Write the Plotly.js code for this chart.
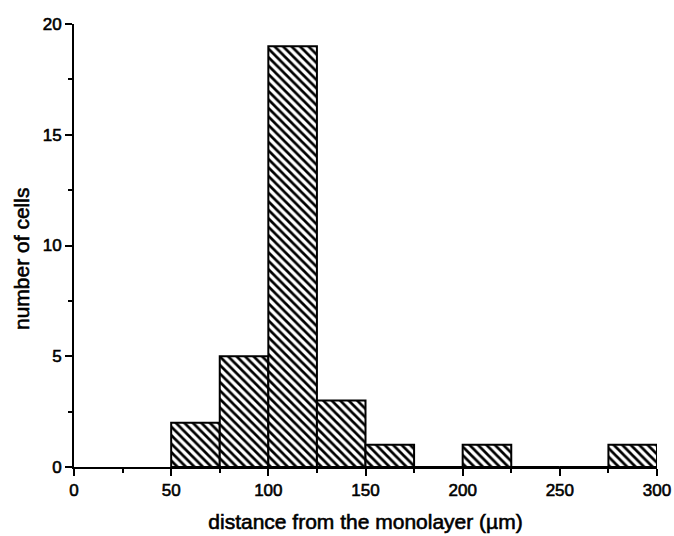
<!DOCTYPE html>
<html>
<head>
<meta charset="utf-8">
<script src="https://cdn.plot.ly/plotly-3.0.1.min.js"></script>
<style>
html,body{margin:0;padding:0;background:#fff;}
#chart{width:674px;height:536px;}
#chart svg text{stroke:#000 !important;stroke-width:0.6px !important;}
</style>
</head>
<body>
<div id="chart"></div>
<script>
const binStarts = [50, 75, 100, 125, 150, 175, 200, 225, 250, 275];
const binWidth = 25;
const counts = [2, 5, 19, 3, 1, 0, 1, 0, 0, 1];
const xTicks = [0, 50, 100, 150, 200, 250, 300];
const yTicks = [0, 5, 10, 15, 20];
const xTitle = 'distance from the monolayer (µm)';
const yTitle = 'number of cells';

const trace = {
  type: 'bar',
  x: binStarts,
  y: counts,
  width: binStarts.map(() => binWidth),
  offset: 0,
  marker: {
    color: '#ffffff',
    line: {color: '#000000', width: 2},
    pattern: {shape: '\\', size: 6, solidity: 0.45, fgcolor: '#000000', bgcolor: '#ffffff', fillmode: 'replace'}
  },
  hoverinfo: 'none'
};

const font = {family: 'Liberation Sans, Arial, sans-serif', color: '#000', size: 16};
const layout = {
  width: 674, height: 536,
  margin: {l: 74, r: 17, t: 24, b: 69},
  paper_bgcolor: '#fff', plot_bgcolor: '#fff',
  showlegend: false,
  font: font,
  bargap: 0,
  xaxis: {
    range: [0, 300], tickvals: xTicks, ticktext: xTicks.map(String),
    ticks: 'outside', ticklen: 7, tickwidth: 2, tickcolor: '#000',
    minor: {dtick: 25, ticks: 'outside', ticklen: 4, tickwidth: 2, tickcolor: '#000'},
    showline: true, linecolor: '#000', linewidth: 2, showgrid: false, zeroline: false,
    tickfont: {size: 17}, automargin: false,
    title: {text: xTitle, font: {size: 21}, standoff: 15}
  },
  yaxis: {
    range: [0, 20], tickvals: yTicks, ticktext: yTicks.map(String),
    ticks: 'outside', ticklen: 7, tickwidth: 2, tickcolor: '#000',
    minor: {dtick: 2.5, ticks: 'outside', ticklen: 4, tickwidth: 2, tickcolor: '#000'},
    showline: true, linecolor: '#000', linewidth: 2, showgrid: false, zeroline: false,
    tickfont: {size: 17}, automargin: false
  },
  annotations: [{
    text: yTitle, textangle: -90, showarrow: false,
    xref: 'paper', yref: 'paper', x: -74/583 + 21/583, y: (467 - 259) / 443,
    xanchor: 'center', yanchor: 'middle', font: {size: 21, color: '#000'}
  }]
};
Plotly.newPlot('chart', [trace], layout, {displayModeBar: false, staticPlot: true});
</script>
</body>
</html>
